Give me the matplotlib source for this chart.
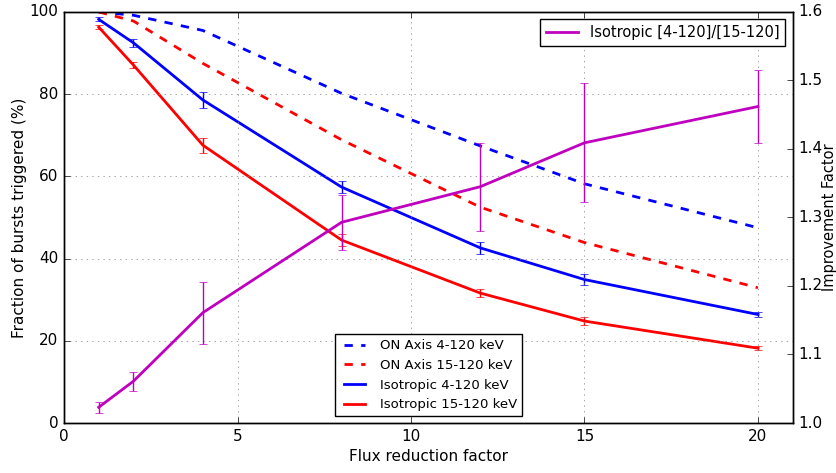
import numpy as np
import matplotlib
matplotlib.use("Agg")
import matplotlib.pyplot as plt

plt.style.use("classic")
plt.rcParams["figure.facecolor"] = "white"
plt.rcParams["savefig.facecolor"] = "white"
plt.rcParams["font.family"] = ["DejaVu Sans Condensed", "DejaVu Sans"]
plt.rcParams["font.size"] = 11

# flux reduction factors
flux = [1, 2, 4, 8, 12, 15, 20]

# on-axis fraction triggered (%)
on_4_120 = [100, 99.2, 95.5, 80.2, 67.4, 58.2, 47.5]
on_15_120 = [100, 97.8, 87.5, 68.9, 52.5, 43.9, 32.9]

# isotropic fraction triggered (%) with errors
iso_4_120 = [98.2, 92.5, 78.6, 57.4, 42.6, 34.9, 26.4]
iso_4_120_err = [0.5, 1.0, 2.0, 1.4, 1.4, 1.4, 0.7]
iso_15_120 = [96.3, 87.1, 67.6, 44.5, 31.6, 24.8, 18.2]
iso_15_120_err = [0.5, 0.7, 1.8, 1.4, 1.0, 1.0, 0.5]

# improvement factor [4-120]/[15-120]
ratio = [1.023, 1.061, 1.161, 1.293, 1.345, 1.409, 1.462]
ratio_err = [0.008, 0.014, 0.045, 0.04, 0.064, 0.087, 0.054]

fig = plt.figure(figsize=(8.37, 4.73), dpi=100)
ax = fig.add_axes([0.0765, 0.1057, 0.8705, 0.869])

l1, = ax.plot(flux, on_4_120, "b--", lw=2, label="ON Axis 4-120 keV")
l2, = ax.plot(flux, on_15_120, "r--", lw=2, label="ON Axis 15-120 keV")
e3 = ax.errorbar(flux, iso_4_120, yerr=iso_4_120_err, fmt="b-", lw=2, capsize=3,
                 elinewidth=1, label="Isotropic 4-120 keV")
e4 = ax.errorbar(flux, iso_15_120, yerr=iso_15_120_err, fmt="r-", lw=2, capsize=3,
                 elinewidth=1, label="Isotropic 15-120 keV")

ax.set_xlim(0, 21)
ax.set_ylim(0, 100)
ax.set_xticks([0, 5, 10, 15, 20])
ax.set_yticks([0, 20, 40, 60, 80, 100])
ax.set_xlabel("Flux reduction factor", labelpad=4)
ax.set_ylabel("Fraction of bursts triggered (%)", labelpad=2)
ax.grid(True, color="0.5", linestyle=":")
ax.legend([l1, l2, e3.lines[0], e4.lines[0]],
          ["ON Axis 4-120 keV", "ON Axis 15-120 keV",
           "Isotropic 4-120 keV", "Isotropic 15-120 keV"],
          loc="lower center", fontsize=9.5, numpoints=2, handlelength=2.2)

ax2 = ax.twinx()
e5 = ax2.errorbar(flux, ratio, yerr=ratio_err, fmt="m-", lw=2, capsize=3,
                  elinewidth=1)
ax2.set_ylim(1.0, 1.6)
ax2.set_yticks([1.0, 1.1, 1.2, 1.3, 1.4, 1.5, 1.6])
ax2.set_ylabel("Improvement Factor", labelpad=0, fontsize=10.5)
ax2.legend([e5.lines[0]], ["Isotropic [4-120]/[15-120]"],
           loc="upper right", fontsize=10.5, numpoints=1, handlelength=2.2)

fig.savefig("out.png", dpi=100)
